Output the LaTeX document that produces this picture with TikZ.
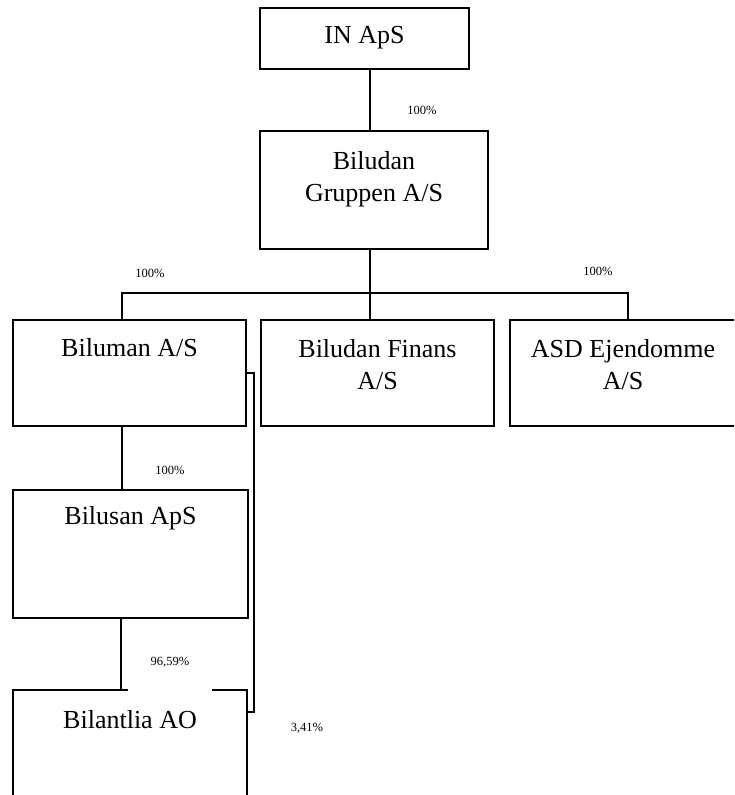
\documentclass[tikz,border=0pt]{standalone}
\usepackage{fontspec}
\setmainfont{Liberation Serif}
\usetikzlibrary{calc}
\begin{document}
\begin{tikzpicture}[x=1pt,y=-1pt,
  box/.style={draw,line width=1.6pt,inner sep=0pt,outer sep=0pt,anchor=north west,fill=white},
  big/.style={font=\fontsize{26}{32}\selectfont,align=center,inner sep=0pt},
  pct/.style={font=\fontsize{12.5}{14}\selectfont,inner sep=0pt},
  conn/.style={line width=1.6pt}]
\useasboundingbox (0,0) rectangle (734,795);
\clip (0,0) rectangle (734,795);
% boxes
\node[box,minimum width=209pt,minimum height=61pt] (inaps) at (260,8) {};
\node[box,minimum width=228pt,minimum height=118pt] (grp) at (260,131) {};
\node[box,minimum width=233pt,minimum height=106pt] (biluman) at (13,320) {};
\node[box,minimum width=233pt,minimum height=106pt] (finans) at (261,320) {};
\node[box,minimum width=232pt,minimum height=106pt] (asd) at (510,320) {};
\node[box,minimum width=235pt,minimum height=128pt] (bilusan) at (13,490) {};
\node[box,minimum width=234pt,minimum height=128pt] (bilantlia) at (13,690) {};
% texts
\node[big] (tinaps) at ($(inaps.north)+(0,30)$) {IN ApS};
\node[big] (tgrp) at ($(grp.north)+(0,48)$) {Biludan\\Gruppen A/S};
\node[big] (tbiluman) at ($(biluman.north)+(0,28)$) {Biluman A/S};
\node[big] (tfinans) at ($(finans.north)+(0,45)$) {Biludan Finans\\A/S};
\node[big] (tasd) at ($(asd.north)+(-3,45)$) {ASD Ejendomme\\A/S};
\node[big] (tbilusan) at ($(bilusan.north)+(0,28)$) {Bilusan ApS};
\node[big] (tbilantlia) at ($(bilantlia.north)+(0,30)$) {Bilantlia AO};
% connectors
\draw[conn] ($(inaps.south west)+(110,0)$) -- ($(grp.north west)+(110,0)$);
\coordinate (busL) at (122,293);
\coordinate (busR) at (628,293);
\coordinate (brk) at (254,373);
\draw[conn] ($(grp.south west)+(110,0)$) -- ($(finans.north west)+(109,0)$);
\draw[conn] (biluman.east) -- (brk) |- ($(bilantlia.north east)+(0,22)$);
\draw[conn] (biluman.north -| busL) -- (busL) -- (busR) -- (asd.north -| busR);
\draw[conn] ($(biluman.south west)+(109,0)$) -- ($(bilusan.north west)+(109,0)$);
\draw[conn] ($(bilusan.south west)+(108,0)$) -- ($(bilantlia.north west)+(108,0)$);
\draw[white,line width=2.6pt] ($(bilantlia.north west)+(115,0)$) -- ($(bilantlia.north west)+(199,0)$);
% percentages
\node[pct] (p1) at (422,110) {100\%};
\node[pct] (p2) at (150,273) {100\%};
\node[pct] (p3) at (598,271) {100\%};
\node[pct] (p4) at (170,470) {100\%};
\node[pct] (p5) at (170,662) {96,59\%};
\node[pct] (p6) at (307,728) {3,41\%};
\end{tikzpicture}
\end{document}
